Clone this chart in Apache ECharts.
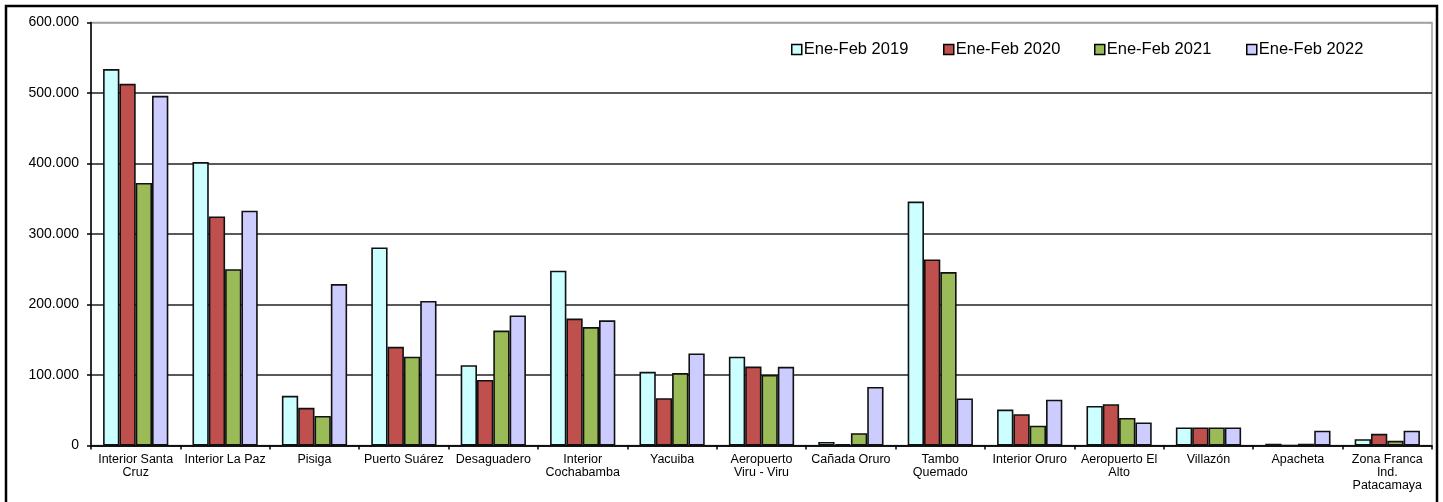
<!DOCTYPE html>
<html>
<head>
<meta charset="utf-8">
<script src="https://cdn.jsdelivr.net/npm/echarts@6/dist/echarts.min.js"></script>
<style>
html,body{margin:0;padding:0;background:#fff;}
#c{width:1443px;height:502px;}
</style>
</head>
<body>
<div id="c"></div>
<script>
const categories = [
  "Interior Santa\nCruz", "Interior La Paz", "Pisiga", "Puerto Suárez", "Desaguadero",
  "Interior\nCochabamba", "Yacuiba", "Aeropuerto\nViru - Viru", "Cañada Oruro", "Tambo\nQuemado",
  "Interior Oruro", "Aeropuerto El\nAlto", "Villazón", "Apacheta", "Zona Franca\nInd.\nPatacamaya"
];
const seriesNames = ["Ene-Feb 2019", "Ene-Feb 2020", "Ene-Feb 2021", "Ene-Feb 2022"];
const v2019 = [534000, 402000, 70500, 281000, 114000, 248000, 104500, 126000, 5000, 346000, 51000, 56000, 25500, 2500, 9000];
const v2020 = [513000, 325000, 53500, 140000, 93000, 180000, 67000, 112000, 1800, 264000, 44500, 58500, 25500, 0, 16500];
const v2021 = [372500, 250000, 42000, 126000, 163000, 168000, 102700, 100000, 17500, 246000, 28000, 39000, 25500, 2500, 6700];
const v2022 = [496000, 333000, 229000, 205000, 184500, 177500, 130600, 111600, 83000, 66800, 65000, 32600, 25500, 21000, 21000];
const yTicks = [0, 100000, 200000, 300000, 400000, 500000, 600000];

const colors = ["#CCFFFF", "#C0504D", "#9BBB59", "#CCCCFF"];
const allValues = [v2019, v2020, v2021, v2022];
const FONT = "'Liberation Sans', Arial, sans-serif";

function fmt(v) {
  return String(v).replace(/\B(?=(\d{3})+(?!\d))/g, ".");
}

const legendLeft = [791, 943, 1094, 1246];

const chart = echarts.init(document.getElementById('c'), null, {renderer: 'canvas'});
chart.setOption({
  animation: false,
  backgroundColor: '#fff',
  textStyle: {fontFamily: FONT, color: '#000'},
  grid: {
    left: 91, right: 11, top: 22.5, bottom: 56.5,
    show: true, borderColor: '#a0a0a0', borderWidth: 1.5, backgroundColor: 'transparent'
  },
  legend: seriesNames.map((n, i) => ({
    data: [n],
    left: legendLeft[i],
    top: 41,
    itemWidth: 10,
    itemHeight: 10,
    itemGap: 0,
    padding: 0,
    icon: 'rect',
    selectedMode: false,
    itemStyle: {borderColor: '#000', borderWidth: 1.5},
    textStyle: {fontFamily: FONT, fontSize: 16.5, color: '#000', padding: [0, 0, 0, -3]}
  })),
  xAxis: {
    type: 'category',
    data: categories,
    axisLine: {lineStyle: {color: '#000', width: 1.5}},
    axisTick: {show: true, length: 4, lineStyle: {color: '#000', width: 1.5}},
    axisLabel: {
      interval: 0, margin: 8, fontFamily: FONT, fontSize: 12.5, color: '#000',
      lineHeight: 13
    }
  },
  yAxis: {
    type: 'value',
    min: 0, max: 600000, interval: 100000,
    axisLine: {show: true, lineStyle: {color: '#000', width: 1.5}},
    axisTick: {show: true, length: 4, lineStyle: {color: '#000', width: 1.5}},
    axisLabel: {
      margin: 12, fontFamily: FONT, fontSize: 14, color: '#000',
      formatter: v => yTicks.includes(v) ? fmt(v) : ''
    },
    splitLine: {show: true, lineStyle: {color: ['#222', '#222', '#222', '#222', '#222', '#222', '#a0a0a0'], width: 1.5}}
  },
  series: seriesNames.map((n, i) => ({
    name: n,
    type: 'bar',
    data: allValues[i],
    barGap: '0%',
    barCategoryGap: '27%',
    itemStyle: {color: colors[i], borderColor: '#111', borderWidth: 1.6}
  })),
  graphic: [{
    type: 'polyline',
    silent: true,
    shape: {points: [[6, 520], [6, 6], [1437, 6], [1437, 520]]},
    style: {stroke: '#000', lineWidth: 2.5, fill: null}
  }]
});
</script>
</body>
</html>
